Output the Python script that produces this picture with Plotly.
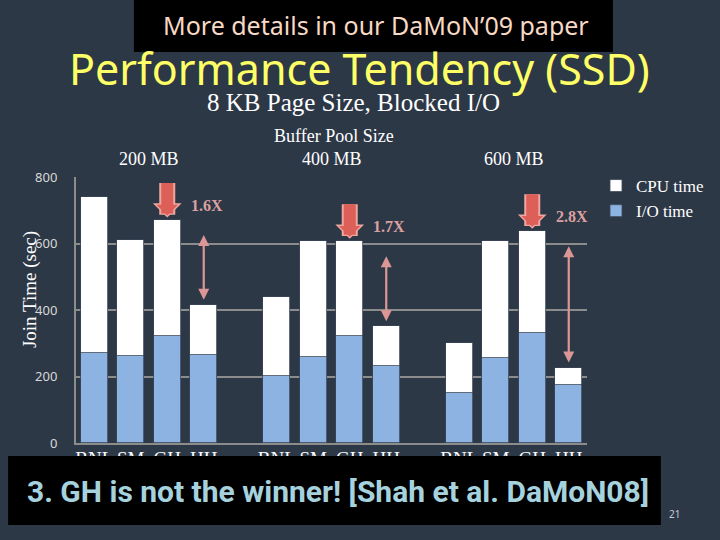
import plotly.graph_objects as go

# --- Datos ---
groups = ["200 MB", "400 MB", "600 MB"]
algos = ["BNL", "SM", "GH", "HH"]
total_time = [
    [740, 611, 672, 416],
    [440, 608, 608, 351],
    [300, 608, 638, 227],
]
io_time = [
    [270, 263, 322, 265],
    [202, 260, 322, 232],
    [151, 256, 331, 175],
]
speedups = ["1.6X", "1.7X", "2.8X"]
y_ticks = [0, 200, 400, 600, 800]

# --- Geometria de la figura (pixeles) ---
W, H = 720, 540
L, R, T, B = 76, 588, 177, 443
BG = "#2d3847"
SERIF = "Liberation Serif"
SANS = "Noto Sans"


def px(x):
    return (x - L) / (R - L)


def py(y):
    return (B - y) / (B - T)


def label(x, y, text, family, size, color, angle=0):
    return dict(x=px(x), y=py(y), xref="paper", yref="paper", xanchor="center",
                yanchor="middle", showarrow=False, text=text, textangle=angle,
                font=dict(family=family, size=size, color=color))


# posiciones de las barras: 4 barras por grupo, hueco de una barra entre grupos
xs, labels, io_vals, cpu_vals = [], [], [], []
for g in range(len(groups)):
    for i, a in enumerate(algos):
        xs.append(g * (len(algos) + 1) + i)
        labels.append(a)
        io_vals.append(io_time[g][i])
        cpu_vals.append(total_time[g][i] - io_time[g][i])

fig = go.Figure()
fig.add_trace(go.Bar(x=xs, y=io_vals, name="I/O time", width=0.74,
                     marker=dict(color="#8db3e2", line=dict(color="#3a4658", width=0.8))))
fig.add_trace(go.Bar(x=xs, y=cpu_vals, name="CPU time", width=0.74,
                     marker=dict(color="#ffffff", line=dict(color="#3a4658", width=0.8))))

annotations = []
shapes = []

# encabezados de grupo
for g, name in enumerate(groups):
    center = g * (len(algos) + 1) + (len(algos) - 1) / 2
    annotations.append(dict(x=center, xref="x", y=py(159), yref="paper", text=name,
                            xanchor="center", yanchor="middle", showarrow=False,
                            font=dict(family=SERIF, size=18, color="white")))

# flechas y factores de mejora
for g in range(len(groups)):
    base = g * (len(algos) + 1)
    gh_x, hh_x = base + 2, base + 3
    gh_top, hh_top = total_time[g][2], total_time[g][3]
    # flecha gruesa sobre GH (borde claro + relleno)
    for col, w, sd in (("#f0a6a0", 16, 2), ("#dc5f58", 12, 4)):
        annotations.append(dict(x=gh_x, y=gh_top, xref="x", yref="y", ax=0, ay=-38,
                                showarrow=True, arrowhead=1, arrowsize=0.3,
                                arrowwidth=w, arrowcolor=col, standoff=sd, text=""))
    annotations.append(dict(x=hh_x, y=gh_top, xref="x", yref="y", yshift=14, xshift=3,
                            text="<b>%s</b>" % speedups[g], showarrow=False,
                            font=dict(family=SERIF, size=16, color="#dca0a0")))
    # doble flecha entre GH y HH
    annotations.append(dict(x=hh_x, y=hh_top, xref="x", yref="y",
                            ax=hh_x, ay=gh_top, axref="x", ayref="y", text="",
                            showarrow=True, arrowside="end+start", arrowhead=2,
                            startarrowhead=2, arrowsize=1, startarrowsize=1,
                            arrowwidth=2.2, arrowcolor="#dc9696",
                            standoff=5, startstandoff=14))

# titulos y textos
annotations += [
    label(360, 68, "Performance Tendency (SSD)", SANS, 43, "#ffff66"),
    label(354, 103, "8 KB Page Size, Blocked I/O", SERIF, 25, "white"),
    label(335, 136, "Buffer Pool Size", SERIF, 18, "white"),
    label(30, 290, "Join Time (sec)", SERIF, 19, "white", angle=-90),
    label(377, 25, "More details in our DaMoN’09 paper", SANS, 25, "#f8d9c4"),
    label(339, 491, "<b>3. GH is not the winner! [Shah et al. DaMoN08]</b>", "Roboto", 30, "#a6d2de"),
    label(676, 514, "21", SANS, 10, "#c8c8d8"),
]

# cajas negras
shapes += [
    dict(type="rect", xref="paper", yref="paper", x0=px(134), x1=px(614), y0=py(52), y1=py(0),
         fillcolor="black", line=dict(width=0), layer="above"),
    dict(type="rect", xref="paper", yref="paper", x0=px(8), x1=px(662), y0=py(525), y1=py(456),
         fillcolor="black", line=dict(width=0), layer="above"),
]

fig.update_layout(
    width=W, height=H,
    margin=dict(l=L, r=W - R, t=T, b=H - B),
    paper_bgcolor=BG, plot_bgcolor=BG,
    barmode="stack", bargap=0,
    showlegend=True,
    legend=dict(x=px(596), y=py(168), xanchor="left", yanchor="top",
                traceorder="reversed", bgcolor="rgba(0,0,0,0)", itemwidth=30,
                font=dict(family=SERIF, size=17, color="white"), tracegroupgap=0),
    annotations=annotations, shapes=shapes,
    xaxis=dict(range=[-0.5, xs[-1] + 0.5], tickvals=xs, ticktext=labels,
               tickfont=dict(family=SERIF, size=19, color="white"), tickangle=0,
               showgrid=False, showline=True, linecolor="#8c8c8c", linewidth=2,
               ticks="", zeroline=False, ticklabelstandoff=-3),
    yaxis=dict(range=[0, 800], tickvals=y_ticks, showgrid=True, gridcolor="#8c8c8c",
               gridwidth=2, showline=True, linecolor="#8c8c8c", linewidth=2,
               zeroline=False, ticks="", ticklabelstandoff=14,
               tickfont=dict(family=SANS, size=13, color="#d8d8d8")),
)

# sin margen del <body>, para que la figura ocupe la ventana desde (0, 0)
fig.write_html("out.html", config={"displayModeBar": False},
               post_script="document.body.style.margin='0';")
